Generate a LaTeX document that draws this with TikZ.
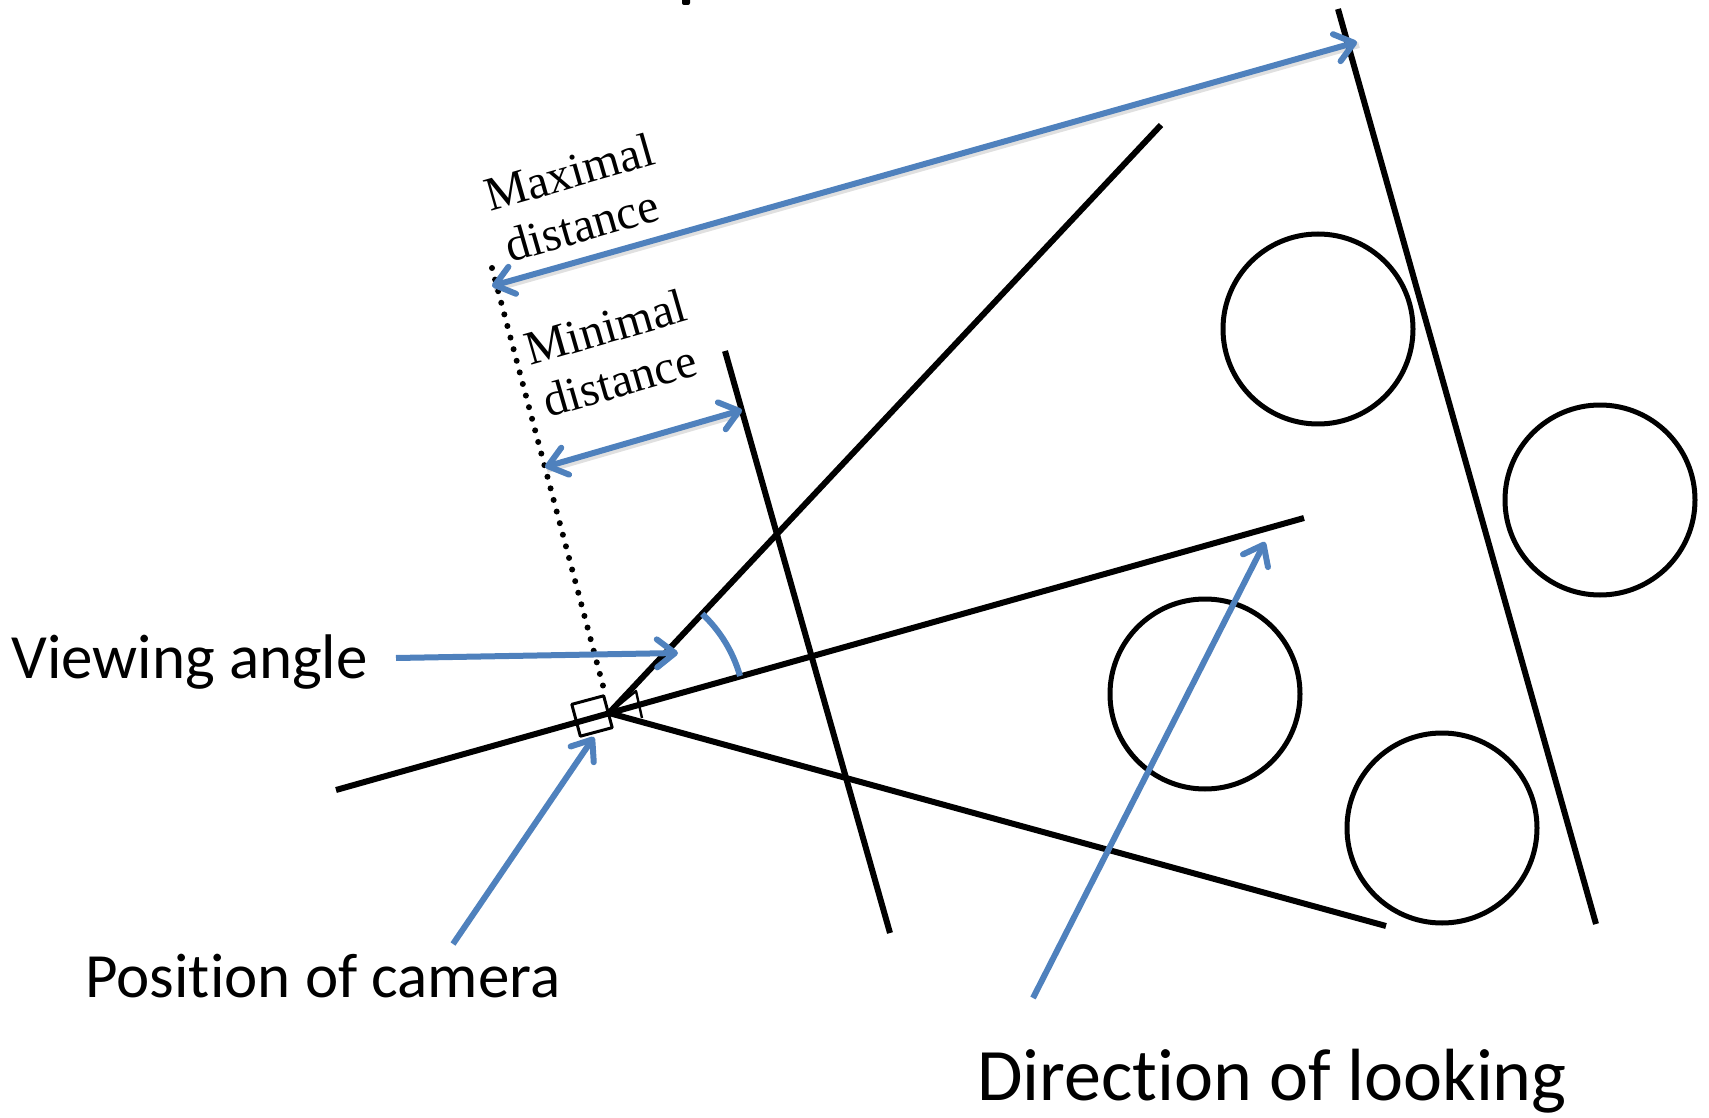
\documentclass[tikz,border=0pt]{standalone}
\usepackage{fontspec}
\setmainfont{Liberation Serif}
\newfontfamily\calib[Ligatures=NoCommon]{Carlito}
\usetikzlibrary{arrows.meta}
\definecolor{officeblue}{RGB}{79,129,189}
\begin{document}
\begin{tikzpicture}[x=0.5pt,y=-0.5pt,line join=round]
\tikzset{
  blk/.style={line width=3pt,black},
  ball/.style={circle,draw,line width=2.5pt,minimum size=95pt,inner sep=0pt},
  tipb/.tip={Straight Barb[length=9pt,width=14pt,round]},
  shadowline/.style={line width=3pt,draw=black,opacity=0.12,transform canvas={shift={(1pt,-1.5pt)}}},
  barrow/.style={line width=3pt,draw=officeblue,-tipb},
  dbarrow/.style={line width=3pt,draw=officeblue,tipb-tipb},
  arcline/.style={line width=3pt,draw=officeblue},
  dotline/.style={line width=3pt,line cap=round,dash pattern=on 0pt off 6pt},
  sanslbl/.style={inner sep=0pt,anchor=base west,font=\calib\fontsize{31.5pt}{38pt}\selectfont},
  sansbig/.style={inner sep=0pt,anchor=base west,font=\calib\fontsize{37pt}{44pt}\selectfont},
  seriflbl/.style={inner sep=0pt,anchor=base west,rotate=16,font=\fontsize{24pt}{28pt}\selectfont},
}
\useasboundingbox (0,0) rectangle (1709,1118);

% cut-off glyph at the top
\fill[rounded corners=1pt] (682,-3) rectangle (690,5);

% geometry
\coordinate (C) at (609,713);
\coordinate (axL) at (336,790);
\coordinate (axR) at (1304,518);
\coordinate (upE) at (1161,125);
\coordinate (loE) at (1386,926);
\coordinate (nearT) at (725,351);
\coordinate (nearB) at (890,933);
\coordinate (farT) at (1338,9);
\coordinate (farB) at (1596,924);
\coordinate (dotT) at (492,268);
\coordinate (dotB) at (606,697);

\draw[blk] (axL) -- (axR);
\draw[blk] (C) -- (upE);
\draw[blk] (C) -- (loE);
\draw[blk] (nearT) -- (nearB);
\draw[blk] (farT) -- (farB);
\draw[dotline] (dotT) -- (dotB);

% objects
\node[ball] (o1) at (1318,329) {};
\node[ball] (o2) at (1600,500) {};
\node[ball] (o3) at (1205,694) {};
\node[ball] (o4) at (1442,828) {};

% camera
\node[draw,line width=1.5pt,minimum size=16.5pt,inner sep=0pt,rotate=15] (cam) at (592,716) {};
\coordinate (lensA) at (636,691);
\coordinate (lensB) at (642,718);
\draw[line width=1.2pt] (C) -- (lensA) -- (lensB);

% viewing angle arc
\coordinate (arcS) at (740,676);
\draw[arcline] (arcS) arc[start angle=-15.8,end angle=-46.8,radius=136];

% distances
\coordinate (maxL) at (492,286);
\coordinate (maxR) at (1357,42);
\draw[shadowline] (maxL) -- (maxR);
\draw[dbarrow] (maxL) -- (maxR);
\coordinate (minL) at (545,467);
\coordinate (minR) at (742,410);
\draw[shadowline] (minL) -- (minR);
\draw[dbarrow] (minL) -- (minR);

\node[seriflbl] (max1) at (490,212) {Maximal};
\node[seriflbl] (max2) at (510,263) {distance};
\node[seriflbl] (min1) at (530,366) {Minimal};
\node[seriflbl] (min2) at (548,418) {distance};

% labels with pointers
\node[sanslbl] (view) at (11,678) {Viewing angle};
\coordinate (viewS) at (396,658);
\coordinate (viewT) at (678,653);
\draw[barrow] (viewS) -- (viewT);

\node[sanslbl] (pos) at (85,997) {Position of camera};
\coordinate (posS) at (453,944);
\coordinate (posT) at (594,737);
\draw[barrow] (posS) -- (posT);

\node[sansbig] (dir) at (977,1100) {Direction of looking};
\coordinate (dirS) at (1033,998);
\coordinate (dirT) at (1265,542);
\draw[barrow] (dirS) -- (dirT);
\end{tikzpicture}
\end{document}
